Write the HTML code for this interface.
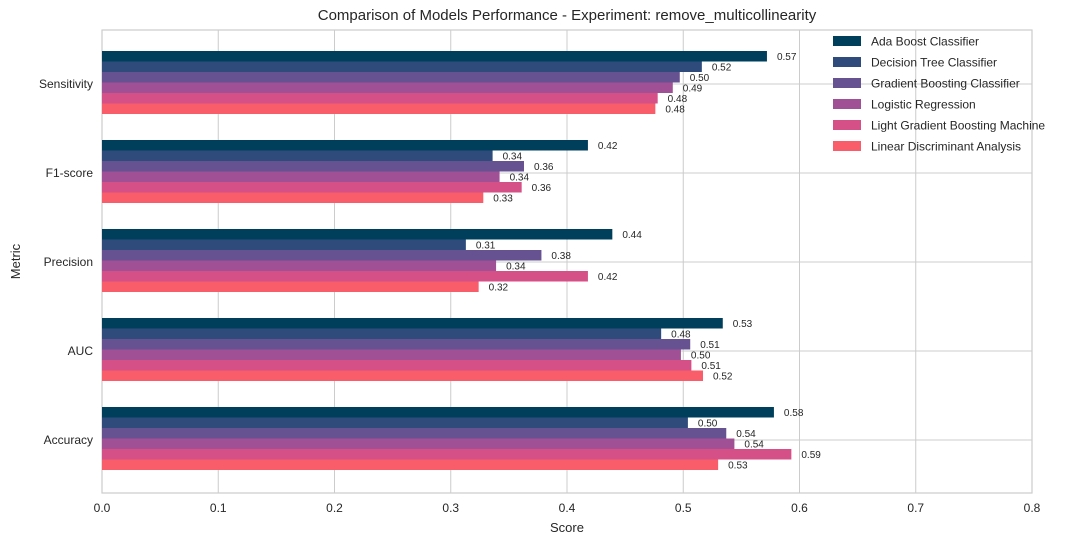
<!DOCTYPE html>
<html><head><meta charset="utf-8"><style>
body{margin:0;background:#fff;}
svg text{font-family:"Liberation Sans",Arial,sans-serif;fill:#262626;}
</style></head><body>
<svg id="chart" width="1088" height="545" xmlns="http://www.w3.org/2000/svg"></svg>
<script>
const categories=["Sensitivity","F1-score","Precision","AUC","Accuracy"];
const seriesNames=["Ada Boost Classifier","Decision Tree Classifier","Gradient Boosting Classifier","Logistic Regression","Light Gradient Boosting Machine","Linear Discriminant Analysis"];
const adaValues=[0.572,0.418,0.439,0.534,0.578];
const dtValues=[0.516,0.336,0.313,0.481,0.504];
const gbValues=[0.497,0.363,0.378,0.506,0.537];
const lrValues=[0.491,0.342,0.339,0.498,0.544];
const lgbmValues=[0.478,0.361,0.418,0.507,0.593];
const ldaValues=[0.476,0.328,0.324,0.517,0.530];
const xTicks=[0,0.1,0.2,0.3,0.4,0.5,0.6,0.7,0.8];
const colors=["#003f5c","#2f4b7c","#665191","#a05195","#d45087","#f95d6a"];
const allSeries=[adaValues,dtValues,gbValues,lrValues,lgbmValues,ldaValues];

const NS="http://www.w3.org/2000/svg";
const svg=document.getElementById('chart');
const L=102,R=1032,T=30,B=493;
const x=v=>L+(v-0)/(0.8)*(R-L);
const bandStep=89, firstCenter=84;
const yc=i=>firstCenter+i*bandStep;
const barH=10.5;
function mk(tag,attrs,parent){const e=document.createElementNS(NS,tag);for(const k in attrs)e.setAttribute(k,attrs[k]);(parent||svg).appendChild(e);return e;}

const title=mk('text',{x:(L+R)/2,y:20,'text-anchor':'middle','font-size':15});
title.textContent="Comparison of Models Performance - Experiment: remove_multicollinearity";



xTicks.forEach(t=>{
  const g=mk('line',{x1:x(t),x2:x(t),y1:T,y2:B,stroke:'#cccccc','stroke-width':1});
  
  
  const tl=mk('text',{x:x(t),y:B+19,'text-anchor':'middle','font-size':12});
  tl.textContent=t.toFixed(1);
  
  
});
categories.forEach((c,i)=>{
  const g=mk('line',{x1:L,x2:R,y1:yc(i),y2:yc(i),stroke:'#cccccc','stroke-width':1});
  
  
  const tl=mk('text',{x:L-9,y:yc(i)+4,'text-anchor':'end','font-size':12});
  tl.textContent=c;
  
  
});
const frame=mk('rect',{x:L,y:T,width:R-L,height:B-T,fill:'none',stroke:'#cccccc','stroke-width':1.2});



allSeries.forEach((vals,s)=>{
  vals.forEach((v,i)=>{
    const top=yc(i)-1.5-3*barH+s*barH;
    const r=mk('rect',{x:L,y:top,width:x(v)-L,height:barH,fill:colors[s]});
    
    
    const t=mk('text',{x:x(v)+10,y:top+barH/2+3.5,'font-size':10});
    t.textContent=v.toFixed(2);
    
    
  });
});

const xl=mk('text',{x:(L+R)/2,y:532,'text-anchor':'middle','font-size':13});
xl.textContent="Score";


const yl=mk('text',{x:20,y:(T+B)/2,'text-anchor':'middle','font-size':13,transform:`rotate(-90 20 ${(T+B)/2})`});
yl.textContent="Metric";



seriesNames.forEach((n,s)=>{
  const yy=41+s*21;
  const p=mk('rect',{x:833,y:yy-5,width:28,height:10,fill:colors[s]});
  
  
  const t=mk('text',{x:871,y:yy+4.5,'font-size':12});
  t.textContent=n;
  
  
});
</script>
</body></html>
